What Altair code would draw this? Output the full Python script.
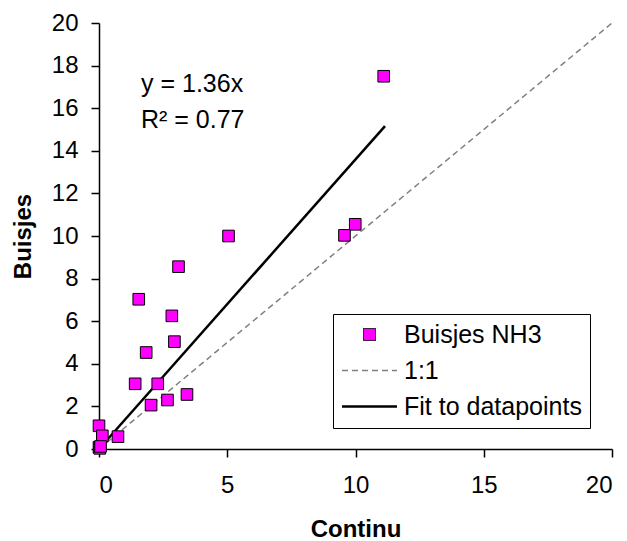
import altair as alt
import pandas as pd

# Data
continu = [11.1, 5.05, 9.57, 9.99, 3.10, 1.55, 2.84, 2.94, 1.84, 1.41, 2.29, 2.03, 2.67, 3.43,
           0.0, 0.13, 0.74, 0.0, 0.03, 0.06]
buisjes = [17.5, 10.0, 10.03, 10.55, 8.56, 7.03, 6.25, 5.04, 4.53, 3.06, 3.06, 2.06, 2.30, 2.56,
           1.09, 0.62, 0.58, 0.08, 0.03, 0.12]

one_x = [0, 20]
one_y = [0, 20]
fit_x = [0, 11.15]
fit_y = [0, 15.16]

series = ["Buisjes NH3", "1:1", "Fit to datapoints"]
colors = ["#FF00FF", "#808080", "#000000"]
eq_lines = ["y = 1.36x", "R\u00b2 = 0.77"]

FONT = "Liberation Sans"

pts = pd.DataFrame({"Continu": continu, "Buisjes": buisjes, "series": series[0]})
one = pd.DataFrame({"Continu": one_x, "Buisjes": one_y, "series": series[1]})
fit = pd.DataFrame({"Continu": fit_x, "Buisjes": fit_y, "series": series[2]})

xs = alt.Scale(domain=[0, 20], nice=False, zero=False)
ys = alt.Scale(domain=[0, 20], nice=False, zero=False)

xax = alt.Axis(values=[0, 5, 10, 15, 20], title="Continu", grid=False)
yax = alt.Axis(values=list(range(0, 21, 2)), title="Buisjes", grid=False)

SQUARE_PATH = "M-0.218,-0.218H0.218V0.218H-0.218Z"

legend = alt.Legend(
    title=None,
    orient="none",
    legendX=234,
    legendY=291,
    strokeColor="black",
    fillColor="white",
    padding=8,
    labelFontSize=25,
    labelFont=FONT,
    labelColor="black",
    labelOffset=22,
    labelLimit=0,
    rowPadding=10,
    symbolOffset=16,
    symbolSize=3025,
    symbolType=alt.ExprRef(f"datum.value == 'Buisjes NH3' ? '{SQUARE_PATH}' : 'stroke'"),
    symbolFillColor=alt.ExprRef("datum.value == 'Buisjes NH3' ? '#FF00FF' : 'transparent'"),
    symbolStrokeColor=alt.ExprRef("datum.value == '1:1' ? '#808080' : '#000000'"),
    symbolStrokeWidth=alt.ExprRef("datum.value == 'Buisjes NH3' ? 1 : (datum.value == '1:1' ? 1.5 : 2.5)"),
    symbolDash=alt.ExprRef("datum.value == '1:1' ? [6, 4] : [1, 0]"),
    symbolOpacity=1,
)

points = alt.Chart(pts).mark_square(
    size=135, filled=True, stroke="black", strokeWidth=1, opacity=1
).encode(
    x=alt.X("Continu:Q", scale=xs, axis=xax),
    y=alt.Y("Buisjes:Q", scale=ys, axis=yax),
    color=alt.Color("series:N", scale=alt.Scale(domain=series, range=colors), legend=legend),
)

one_line = alt.Chart(one).mark_line(
    color="#808080", strokeWidth=1.5, strokeDash=[6, 4]
).encode(x=alt.X("Continu:Q", scale=xs), y=alt.Y("Buisjes:Q", scale=ys))

fit_line = alt.Chart(fit).mark_line(
    color="black", strokeWidth=2.5
).encode(x=alt.X("Continu:Q", scale=xs), y=alt.Y("Buisjes:Q", scale=ys))

eq = pd.DataFrame({"t": eq_lines})
eq1 = alt.Chart(eq.iloc[[0]]).mark_text(
    align="left", baseline="alphabetic", font=FONT, fontSize=25, color="black"
).encode(x=alt.value(42), y=alt.value(69), text="t:N")
eq2 = alt.Chart(eq.iloc[[1]]).mark_text(
    align="left", baseline="alphabetic", font=FONT, fontSize=25, color="black"
).encode(x=alt.value(42), y=alt.value(105), text="t:N")

chart = alt.layer(one_line, fit_line, points, eq1, eq2).properties(
    width=513,
    height=426,
    autosize=alt.AutoSizeParams(type="none"),
    padding={"left": 99, "top": 23, "right": 15, "bottom": 92},
).configure_view(
    strokeWidth=0
).configure_axis(
    domainColor="black",
    domainWidth=1.5,
    tickColor="black",
    tickWidth=1.5,
    tickSize=8,
    labelFont=FONT,
    labelFontSize=24,
    labelColor="black",
    titleFont=FONT,
    titleFontSize=24,
    titleFontWeight="bold",
    titleColor="black",
).configure_axisX(
    labelPadding=16,
    titlePadding=20,
).configure_axisY(
    labelPadding=13,
    titlePadding=16,
)

chart.save("out.html", embed_options={"renderer": "svg", "actions": False})
